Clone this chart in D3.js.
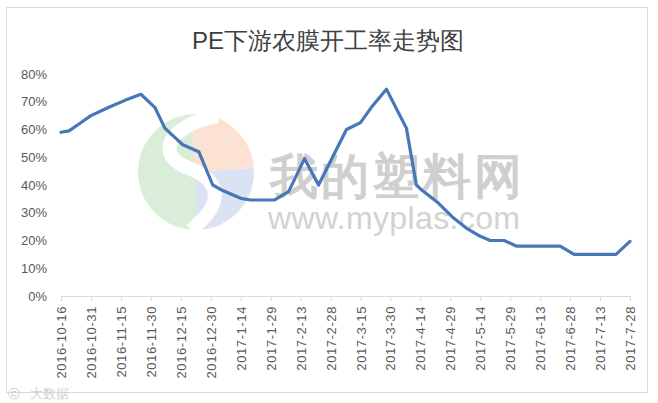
<!DOCTYPE html>
<html>
<head>
<meta charset="utf-8">
<script src="https://cdnjs.cloudflare.com/ajax/libs/d3/7.8.5/d3.min.js"></script>
<style>
  body { margin: 0; background: #fff; }
  svg text { font-family: "Liberation Sans", Arial, sans-serif; }
</style>
</head>
<body>
<svg width="658" height="403"></svg>
<script>
var dates = ["2016-10-16", "2016-10-20", "2016-10-25", "2016-10-31", "2016-11-09", "2016-11-17",
  "2016-11-25", "2016-12-02", "2016-12-07", "2016-12-16", "2016-12-24", "2016-12-31",
  "2017-01-05", "2017-01-14", "2017-01-19", "2017-01-31", "2017-02-07", "2017-02-15",
  "2017-02-22", "2017-03-08", "2017-03-15", "2017-03-21", "2017-03-28", "2017-04-07",
  "2017-04-12", "2017-04-15", "2017-04-23", "2017-04-30", "2017-05-07", "2017-05-14",
  "2017-05-19", "2017-05-26", "2017-06-01", "2017-06-23", "2017-06-30", "2017-07-21",
  "2017-07-28"];
var rates = [0.59, 0.595, 0.62, 0.65, 0.68, 0.705,
  0.727, 0.68, 0.605, 0.545, 0.52, 0.40,
  0.38, 0.352, 0.346, 0.346, 0.376, 0.495,
  0.40, 0.60, 0.625, 0.685, 0.745, 0.605,
  0.40, 0.38, 0.335, 0.285, 0.245, 0.215,
  0.20, 0.20, 0.18, 0.18, 0.15, 0.15,
  0.197];
var tickLabels = ["2016-10-16", "2016-10-31", "2016-11-15", "2016-11-30", "2016-12-15", "2016-12-30",
  "2017-1-14", "2017-1-29", "2017-2-13", "2017-2-28", "2017-3-15", "2017-3-30",
  "2017-4-14", "2017-4-29", "2017-5-14", "2017-5-29", "2017-6-13", "2017-6-28",
  "2017-7-13", "2017-7-28"];
var yTicks = [0, 0.1, 0.2, 0.3, 0.4, 0.5, 0.6, 0.7, 0.8];
var title = "PE下游农膜开工率走势图";

var parse = function(s) {
  var p = s.split("-");
  return new Date(Date.UTC(+p[0], +p[1] - 1, +p[2]));
};

var svg = d3.select("svg");

// chart frame
svg.append("rect")
  .attr("x", 6.5).attr("y", 7.5)
  .attr("width", 641).attr("height", 385)
  .attr("fill", "#fff")
  .attr("stroke", "#d9d9d9");

// watermark logo
var logo = svg.append("g").attr("transform", "translate(196,172)").attr("opacity", 0.38);
var arc = d3.arc().innerRadius(0).outerRadius(58);
logo.append("path").attr("d", arc({startAngle: Math.PI, endAngle: 2 * Math.PI})).attr("fill", "#9cd19a");
logo.append("path").attr("d", arc({startAngle: -0.1, endAngle: 1.5})).attr("fill", "#f6b48c");
logo.append("path").attr("d", arc({startAngle: 1.5, endAngle: Math.PI})).attr("fill", "#9fb5e0");
logo.append("path")
  .attr("d", "M22,-56 C-20,-50 -45,-20 -10,-5 C25,8 30,30 -5,58")
  .attr("fill", "none").attr("stroke", "#fff").attr("stroke-width", 14);

svg.append("text")
  .attr("x", 270).attr("y", 193)
  .attr("font-family", "Noto Sans CJK SC")
  .attr("font-weight", "bold")
  .attr("font-size", 48)
  .attr("fill", "#cfcfcf")
  .attr("textLength", 252)
  .text("我的塑料网");
svg.append("text")
  .attr("x", 268).attr("y", 229)
  .attr("font-size", 32)
  .attr("fill", "#d2d2d2")
  .attr("textLength", 252)
  .text("www.myplas.com");

// scales
var x = d3.scaleUtc()
  .domain([parse("2016-10-16"), parse("2017-07-28")])
  .range([61, 630]);
var y = d3.scaleLinear()
  .domain([0, 0.8])
  .range([296, 74]);

// title
svg.append("text")
  .attr("x", 328).attr("y", 49)
  .attr("text-anchor", "middle")
  .attr("font-family", "Noto Sans CJK SC")
  .attr("font-size", 24)
  .attr("fill", "#404040")
  .text(title);

// y axis labels
svg.append("g")
  .selectAll("text")
  .data(yTicks)
  .enter().append("text")
    .attr("x", 47)
    .attr("y", function(d) { return y(d) + 4.5; })
    .attr("text-anchor", "end")
    .attr("font-size", 13)
    .attr("fill", "#595959")
    .text(d3.format(".0%"));

// x axis
var xAxis = d3.axisBottom(x)
  .tickValues(tickLabels.map(parse))
  .tickSize(5)
  .tickFormat(function(d, i) { return tickLabels[i]; });
var gx = svg.append("g")
  .attr("transform", "translate(0,296)")
  .call(xAxis);
gx.select(".domain").attr("stroke", "#d9d9d9");
gx.selectAll(".tick line").attr("stroke", "#d9d9d9");
gx.selectAll(".tick text")
  .attr("font-size", 13)
  .attr("letter-spacing", 0.6)
  .attr("fill", "#595959")
  .attr("transform", "rotate(-90)")
  .attr("text-anchor", "end")
  .attr("x", -10)
  .attr("y", 0)
  .attr("dy", "0.35em");

// line
var points = dates.map(function(d, i) { return [parse(d), rates[i]]; });
var line = d3.line()
  .x(function(d) { return x(d[0]); })
  .y(function(d) { return y(d[1]); });
svg.append("path")
  .datum(points)
  .attr("fill", "none")
  .attr("stroke", "#4677b8")
  .attr("stroke-width", 3.2)
  .attr("stroke-linejoin", "round")
  .attr("stroke-linecap", "round")
  .attr("d", line);

// bottom-left source mark
svg.append("text")
  .attr("x", 8).attr("y", 398)
  .attr("font-size", 12)
  .attr("fill", "#c8c8c8")
  .text("ⓒ");
svg.append("text")
  .attr("x", 30).attr("y", 398)
  .attr("font-family", "Noto Sans CJK SC")
  .attr("font-size", 13)
  .attr("fill", "#d0d0d0")
  .text("大数据");
</script>
</body>
</html>
